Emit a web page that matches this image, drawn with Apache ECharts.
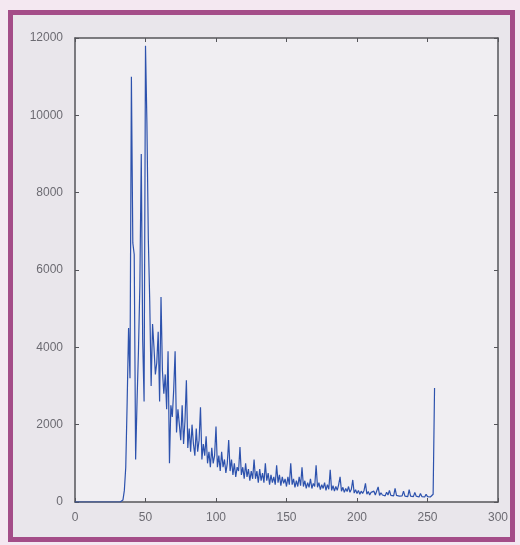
<!DOCTYPE html>
<html>
<head>
<meta charset="UTF-8">
<title>Histogram</title>
<script src="https://cdn.jsdelivr.net/npm/echarts@6.0.0/dist/echarts.min.js"></script>
<style>
  html, body { margin: 0; padding: 0; background: #f4e8f1; }
  #frame {
    position: absolute; left: 8px; top: 10px; width: 497px; height: 522px;
    border: 5px solid #a44d88; background: #e9e6eb;
  }
  #chart { position: absolute; left: 0; top: 0; width: 520px; height: 545px; }
</style>
</head>
<body>
<div id="frame"></div>
<div id="chart"></div>
<script>
// gray levels 0..255, pixel counts
const counts = [
  0, 0, 0, 0, 0, 0, 0, 0, 0, 0,
  0, 0, 0, 0, 0, 0, 0, 0, 0, 0,
  0, 0, 0, 0, 0, 0, 0, 0, 0, 0,
  0, 0, 0, 0, 50, 300, 900, 2600, 4500, 3200,
  11000, 6700, 6400, 1100, 2600, 3900, 5600, 9000, 4200, 2600,
  11800, 9800, 6800, 5200, 3000, 4600, 4000, 3300, 3600, 4400,
  2600, 5300, 3400, 2800, 3300, 2400, 3900, 1000, 2500, 2200,
  2900, 3900, 1800, 2400, 2000, 1600, 2500, 1500, 2100, 3150,
  1400, 1900, 1300, 2000, 1500, 1200, 1900, 1300, 1600, 2450,
  1100, 1500, 1200, 1700, 1000, 1300, 900, 1400, 1000, 1200,
  1950, 900, 1200, 800, 1300, 900, 1100, 750, 1000, 1600,
  800, 1100, 700, 1000, 650, 900, 800, 1420, 700, 900,
  600, 1000, 650, 850, 550, 800, 600, 1100, 600, 800,
  500, 850, 550, 750, 500, 1000, 550, 750, 450, 700,
  500, 650, 450, 950, 500, 700, 420, 650, 480, 600,
  400, 650, 450, 1000, 450, 600, 380, 550, 400, 650,
  420, 900, 400, 550, 350, 500, 380, 600, 350, 480,
  400, 950, 380, 500, 320, 450, 350, 500, 300, 450,
  330, 830, 300, 420, 280, 400, 300, 450, 650, 280,
  380, 250, 350, 270, 400, 250, 330, 570, 230, 320,
  220, 300, 200, 280, 220, 300, 480, 200, 270, 180,
  250, 200, 280, 180, 230, 390, 170, 240, 180, 220,
  160, 250, 180, 300, 170, 220, 160, 350, 170, 210,
  150, 200, 160, 280, 150, 200, 140, 320, 150, 190,
  140, 250, 150, 180, 130, 220, 140, 170, 130, 200,
  140, 160, 130, 150, 200, 2950
];
const xTicks = [0, 50, 100, 150, 200, 250, 300];
const yTicks = [0, 2000, 4000, 6000, 8000, 10000, 12000];

const axisColor = '#55555a';
const labelStyle = {
  color: '#6c6b72', fontFamily: 'Liberation Sans', fontSize: 12,
  formatter: v => String(v)
};

const chart = echarts.init(document.getElementById('chart'));
chart.setOption({
  animation: false,
  backgroundColor: 'transparent',
  grid: { left: 75, right: 22, top: 38, bottom: 43, show: true, backgroundColor: '#f0eef2', borderWidth: 0 },
  xAxis: [
    {
      type: 'value', min: xTicks[0], max: xTicks[xTicks.length - 1], interval: 50,
      axisLine: { onZero: false, lineStyle: { color: axisColor, width: 1.5 } },
      axisTick: { inside: true, length: 4, lineStyle: { color: axisColor } },
      axisLabel: Object.assign({ margin: 10 }, labelStyle),
      splitLine: { show: false }
    },
    {
      type: 'value', position: 'top', min: 0, max: 300, interval: 50,
      axisLine: { onZero: false, lineStyle: { color: axisColor, width: 1.5 } },
      axisTick: { inside: true, length: 4, lineStyle: { color: axisColor } },
      axisLabel: { show: false }, splitLine: { show: false }
    }
  ],
  yAxis: [
    {
      type: 'value', min: yTicks[0], max: yTicks[yTicks.length - 1], interval: 2000,
      axisLine: { show: true, onZero: false, lineStyle: { color: axisColor, width: 1.5 } },
      axisTick: { show: true, inside: true, length: 4, lineStyle: { color: axisColor } },
      axisLabel: Object.assign({ margin: 12 }, labelStyle),
      splitLine: { show: false }
    },
    {
      type: 'value', position: 'right', min: 0, max: 12000, interval: 2000,
      axisLine: { show: true, onZero: false, lineStyle: { color: axisColor, width: 1.5 } },
      axisTick: { show: true, inside: true, length: 4, lineStyle: { color: axisColor } },
      axisLabel: { show: false }, splitLine: { show: false }
    }
  ],
  series: [{
    type: 'line',
    data: counts.map((c, i) => [i, c]),
    showSymbol: false,
    lineStyle: { color: '#2d52ad', width: 1.2 },
    z: 1
  }]
});
</script>
</body>
</html>
